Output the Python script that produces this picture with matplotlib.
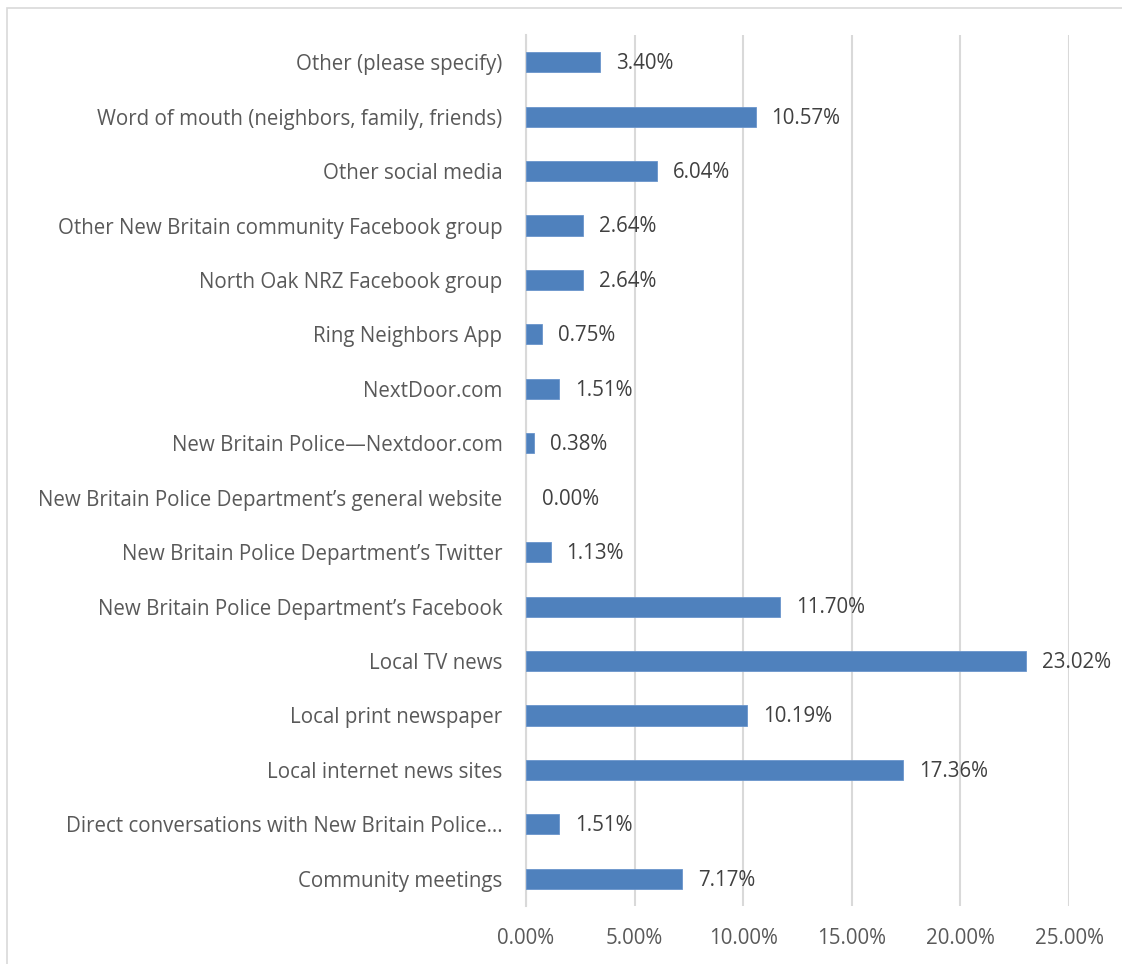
import matplotlib
matplotlib.use("Agg")
import matplotlib.pyplot as plt
from matplotlib.patches import Rectangle
from matplotlib.ticker import FuncFormatter

categories = [
    "Community meetings",
    "Direct conversations with New Britain Police\u2026",
    "Local internet news sites",
    "Local print newspaper",
    "Local TV news",
    "New Britain Police Department\u2019s Facebook",
    "New Britain Police Department\u2019s Twitter",
    "New Britain Police Department\u2019s general website",
    "New Britain Police\u2014Nextdoor.com",
    "NextDoor.com",
    "Ring Neighbors App",
    "North Oak NRZ Facebook group",
    "Other New Britain community Facebook group",
    "Other social media",
    "Word of mouth (neighbors, family, friends)",
    "Other (please specify)",
]
values = [7.17, 1.51, 17.36, 10.19, 23.02, 11.70, 1.13, 0.00, 0.38, 1.51,
          0.75, 2.64, 2.64, 6.04, 10.57, 3.40]
x_ticks = [0, 5, 10, 15, 20, 25]

plt.rcParams['font.family'] = ['Open Sans', 'DejaVu Sans']
text_color = "#595959"
grid_color = "#D9D9D9"
bar_color = "#4F81BD"
fs = 14.8

W, H = 1122, 964
fig = plt.figure(figsize=(W / 100, H / 100), dpi=100)
ax = fig.add_axes([526 / W, 1 - 906 / H, (1069 - 526) / W, (906 - 35) / H])

ypos = list(range(len(categories)))
ax.barh(ypos, values, height=0.37, color=bar_color,
        edgecolor=["#6A95CC" if v > 0 else "none" for v in values],
        linewidth=0.6, zorder=3)

for y, v in zip(ypos, values):
    ax.annotate(f"{v:.2f}%", xy=(v, y), xytext=(11.5, -1), textcoords="offset points",
                va="center", ha="left", fontsize=fs, color="#404040")

ax.set_xlim(0, 25)
ax.set_ylim(-0.5, len(categories) - 0.5)
ax.set_xticks(x_ticks)
ax.xaxis.set_major_formatter(FuncFormatter(lambda x, p: f"{x:.2f}%"))
ax.set_yticks(ypos)
ax.set_yticklabels(categories)

ax.grid(axis="x", color=grid_color, linewidth=1.5, zorder=0)
ax.set_axisbelow(True)
for side in ["top", "right", "bottom"]:
    ax.spines[side].set_visible(False)
ax.spines["left"].set_color(grid_color)
ax.spines["left"].set_linewidth(1.5)

ax.tick_params(axis="both", length=0, labelsize=fs, labelcolor=text_color)
ax.tick_params(axis="x", pad=16)
ax.tick_params(axis="y", pad=17)

# outer chart frame
fig.patches.append(Rectangle((6.5 / W, -0.05), 1.2, 1 - 7.5 / H + 0.05,
                             transform=fig.transFigure, fill=False,
                             edgecolor=grid_color, linewidth=1.2))

fig.savefig("out.png", dpi=100)
